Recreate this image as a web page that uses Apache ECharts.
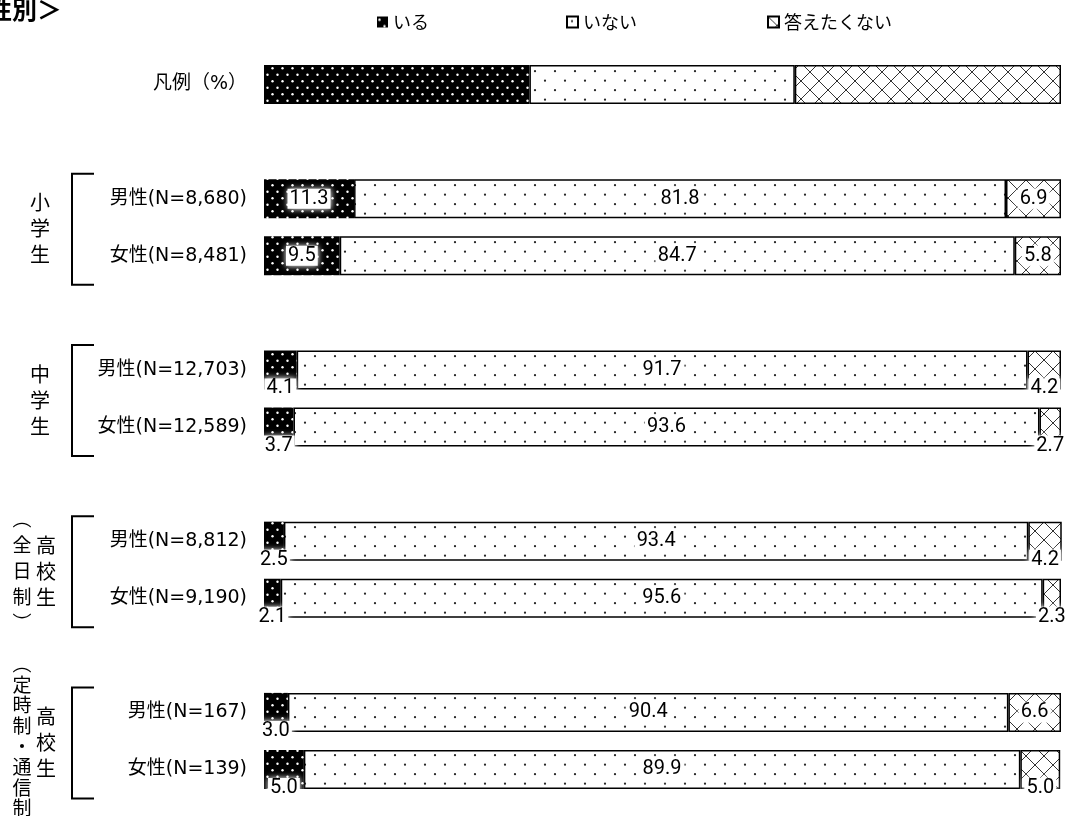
<!doctype html>
<html lang="ja">
<head>
<meta charset="UTF-8">
<title>性別</title>
<script src="https://cdn.jsdelivr.net/npm/echarts@6/dist/echarts.min.js"></script>
<style>
    html, body { margin: 0; padding: 0; background: #fff; }
    #chart { width: 1070px; height: 816px; }
</style>
</head>
<body>
<div id="chart"></div>
<script>
// 行ラベル（空文字はグループ間の空き行）
var categories = ['凡例（%）', '', '男性(N=8,680)', '女性(N=8,481)', '', '男性(N=12,703)', '女性(N=12,589)', '', '男性(N=8,812)', '女性(N=9,190)', '', '男性(N=167)', '女性(N=139)'];
var iru          = [33.3, null, 11.3, 9.5, null, 4.1, 3.7, null, 2.5, 2.1, null, 3.0, 5.0];
var inai         = [33.3, null, 81.8, 84.7, null, 91.7, 93.6, null, 93.4, 95.6, null, 90.4, 89.9];
var kotaetakunai = [33.4, null, 6.9, 5.8, null, 4.2, 2.7, null, 4.2, 2.3, null, 6.6, 5.0];
var seriesNames  = ['いる', 'いない', '答えたくない'];
// グループ（行番号と縦書きラベル）
var groupRows   = [[2, 3], [5, 6], [8, 9], [11, 12]];
var groupMain   = ['小学生', '中学生', '高校生', '高校生'];
var groupSub    = ['', '', '︵全日制︶', '︵定時制・通信制︶'];

var JP = '"Noto Sans CJK JP"';
var LAT = '"DejaVu Sans", "Noto Sans CJK JP"';
var NUM = '"Liberation Sans Narrow", Roboto';

function makePattern(w, h, draw) {
    var c = document.createElement('canvas');
    c.width = w; c.height = h;
    draw(c.getContext('2d'), w, h);
    return c;
}
function dot(ctx, x, y, r) {
    ctx.beginPath(); ctx.arc(x, y, r, 0, Math.PI * 2); ctx.fill();
}
var patIru = makePattern(10, 13, function (ctx, w, h) {
    ctx.fillStyle = '#000'; ctx.fillRect(0, 0, w, h);
    ctx.fillStyle = '#fff';
    dot(ctx, 2.5, 3.2, 1.2); dot(ctx, 7.5, 9.7, 1.2);
});
var patInai = makePattern(20, 19, function (ctx, w, h) {
    ctx.fillStyle = '#fff'; ctx.fillRect(0, 0, w, h);
    ctx.fillStyle = '#222';
    dot(ctx, 5, 4.7, 1.1); dot(ctx, 15, 14.2, 1.1);
});
var patKotae = makePattern(18, 18, function (ctx, w, h) {
    ctx.fillStyle = '#fff'; ctx.fillRect(0, 0, w, h);
    ctx.strokeStyle = '#333'; ctx.lineWidth = 1;
    ctx.beginPath();
    ctx.moveTo(0, 0); ctx.lineTo(w, h);
    ctx.moveTo(w, 0); ctx.lineTo(0, h);
    ctx.stroke();
});
var patterns = [patIru, patInai, patKotae];

function buildData(arr, sIdx) {
    return arr.map(function (v, i) {
        if (v === null) return null;
        if (i === 0) return { value: v, label: { show: false } };
        if (sIdx !== 1 && v < 5.5) {
            // 小さい値は棒の下端に表示
            return {
                value: v,
                label: { position: ['50%', '100%'], align: 'center', verticalAlign: 'middle', offset: [0, -1] }
            };
        }
        return v;
    });
}

var chart = echarts.init(document.getElementById('chart'));

var series = [iru, inai, kotaetakunai].map(function (arr, k) {
    return {
        name: seriesNames[k],
        type: 'bar',
        stack: 'total',
        barWidth: 39,
        data: buildData(arr, k),
        itemStyle: {
            color: { image: patterns[k], repeat: 'repeat' },
            borderColor: '#000',
            borderWidth: k === 0 ? 0 : 1.5
        },
        label: {
            show: true,
            position: 'inside',
            formatter: function (p) { return Number(p.value).toFixed(1); },
            fontFamily: NUM,
            fontSize: 20,
            color: '#000',
            backgroundColor: '#fff',
            padding: [0, 2],
            shadowBlur: 6,
            shadowColor: '#fff'
        },
        emphasis: { disabled: true }
    };
});

function legendAt(name, left) {
    return {
        data: [name], left: left, top: 8,
        icon: 'rect', itemWidth: 11, itemHeight: 11, itemGap: 4,
        textStyle: { fontFamily: JP, fontSize: 18, color: '#000' },
        selectedMode: false
    };
}

chart.setOption({
    animation: false,
    grid: { left: 264, right: 9, top: 56, bottom: 18, containLabel: false },
    legend: [legendAt('いる', 372), legendAt('いない', 561), legendAt('答えたくない', 762)],
    xAxis: { type: 'value', min: 0, max: 100, show: false },
    yAxis: {
        type: 'category',
        data: categories,
        inverse: true,
        axisLine: { show: false },
        axisTick: { show: false },
        axisLabel: { margin: 17, fontFamily: LAT, fontSize: 19, color: '#000' }
    },
    series: series
});

// 括弧と縦書きラベル
var graphics = [{
    type: 'text',
    style: { text: '＜性別＞', x: -38, y: 9, fill: '#000', fontFamily: JP, fontSize: 25, fontWeight: 'bold',
             align: 'left', verticalAlign: 'middle', textAlign: 'left', textVerticalAlign: 'middle' }
}];
groupRows.forEach(function (g, i) {
    var y0 = chart.convertToPixel({ yAxisIndex: 0 }, g[0]);
    var y1 = chart.convertToPixel({ yAxisIndex: 0 }, g[1]);
    var top = y0 - 25, bot = y1 + 29, mid = (y0 + y1) / 2 + 1.5;
    graphics.push({
        type: 'polyline',
        shape: { points: [[94, top], [72, top], [72, bot], [94, bot]] },
        style: { stroke: '#000', lineWidth: 2, fill: null }
    });
    var sub = groupSub[i];
    graphics.push({
        type: 'text',
        style: { text: groupMain[i].split('').join('\n'), x: sub ? 46 : 40, y: mid, fill: '#000',
                 fontFamily: JP, fontSize: 20, lineHeight: 26,
                 align: 'center', verticalAlign: 'middle', textAlign: 'center', textVerticalAlign: 'middle' }
    });
    if (sub) {
        var lh = sub.length > 5 ? 20.6 : 26;
        graphics.push({
            type: 'text',
            style: { text: sub.split('').join('\n'), x: 22, y: mid + (sub.length > 5 ? 4 : 0), fill: '#000',
                     fontFamily: JP, fontSize: 19, lineHeight: lh,
                     align: 'center', verticalAlign: 'middle', textAlign: 'center', textVerticalAlign: 'middle' }
        });
    }
});
chart.setOption({ graphic: graphics });
</script>
</body>
</html>
